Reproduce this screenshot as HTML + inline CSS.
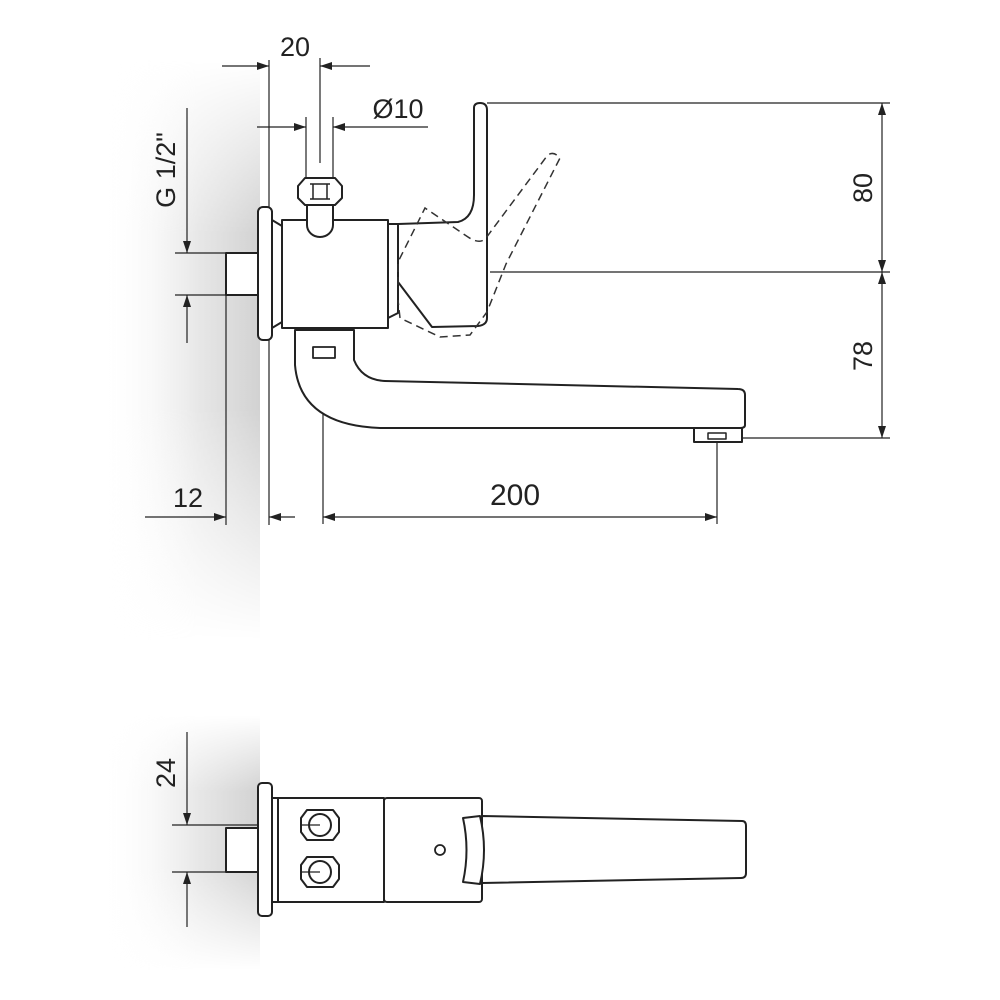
<!DOCTYPE html>
<html><head><meta charset="utf-8"><style>
html,body{margin:0;padding:0;background:#fff}
svg{display:block}
text{font-family:"Liberation Sans",sans-serif;fill:#222}
</style></head><body>
<svg width="1000" height="1000" viewBox="0 0 1000 1000" xmlns="http://www.w3.org/2000/svg">
<defs>
<linearGradient id="g1" x1="0" x2="1" y1="0" y2="0">
<stop offset="0" stop-color="#fff" stop-opacity="0"/>
<stop offset="0.6" stop-color="#e8e8e8"/>
<stop offset="1" stop-color="#d2d2d2"/>
</linearGradient>
<linearGradient id="gv" x1="0" x2="0" y1="0" y2="1">
<stop offset="0" stop-color="#000"/>
<stop offset="0.3" stop-color="#fff"/>
<stop offset="0.6" stop-color="#fff"/>
<stop offset="1" stop-color="#000"/>
</linearGradient>
<mask id="m1"><rect x="0" y="60" width="270" height="580" fill="url(#gv)"/></mask>
<mask id="m2"><rect x="0" y="715" width="270" height="255" fill="url(#gv)"/></mask>
<marker id="a" viewBox="0 0 12 8" refX="12" refY="4" markerWidth="12" markerHeight="8" orient="auto-start-reverse" markerUnits="userSpaceOnUse"><path d="M0,0 L12,4 L0,8 z" fill="#222"/></marker>
</defs>
<rect x="100" y="60" width="160" height="580" fill="url(#g1)" mask="url(#m1)"/>
<rect x="100" y="715" width="160" height="255" fill="url(#g1)" mask="url(#m2)"/>

<g fill="none" stroke="#222" stroke-width="1.2">
<line x1="269" y1="60" x2="269" y2="525"/>
<line x1="320" y1="58" x2="320" y2="163"/>
<line x1="222" y1="66" x2="269" y2="66" marker-end="url(#a)"/>
<line x1="370" y1="66" x2="320" y2="66" marker-end="url(#a)"/>
<line x1="306" y1="117" x2="306" y2="178"/>
<line x1="333" y1="117" x2="333" y2="178"/>
<line x1="257" y1="127" x2="306" y2="127" marker-end="url(#a)"/>
<line x1="428" y1="127" x2="333" y2="127" marker-end="url(#a)"/>
<line x1="187" y1="108" x2="187" y2="253" marker-end="url(#a)"/>
<line x1="187" y1="343" x2="187" y2="295" marker-end="url(#a)"/>
<line x1="175" y1="253" x2="226" y2="253"/>
<line x1="175" y1="295" x2="226" y2="295"/>
<line x1="226" y1="295" x2="226" y2="525"/>
<line x1="145" y1="517" x2="226" y2="517" marker-end="url(#a)"/>
<line x1="295" y1="517" x2="269" y2="517" marker-end="url(#a)"/>
<line x1="323" y1="392" x2="323" y2="524"/>
<line x1="717" y1="440" x2="717" y2="524"/>
<line x1="323" y1="517" x2="717" y2="517" marker-start="url(#a)" marker-end="url(#a)"/>
<line x1="487" y1="103" x2="890" y2="103"/>
<line x1="490" y1="272" x2="890" y2="272"/>
<line x1="735" y1="438" x2="890" y2="438"/>
<line x1="882" y1="103" x2="882" y2="272" marker-start="url(#a)" marker-end="url(#a)"/>
<line x1="882" y1="272" x2="882" y2="438" marker-start="url(#a)" marker-end="url(#a)"/>
<line x1="187" y1="732" x2="187" y2="825" marker-end="url(#a)"/>
<line x1="187" y1="927" x2="187" y2="872" marker-end="url(#a)"/>
<line x1="172" y1="825" x2="320" y2="825"/>
<line x1="172" y1="872" x2="320" y2="872"/>
</g>

<g fill="#fff" stroke="#222" stroke-width="2" stroke-linejoin="round">
<rect x="226" y="253" width="32" height="42"/>
<rect x="258" y="207" width="14" height="133" rx="5"/>
<path d="M272,220 L282,226 L282,322 L272,328 z"/>
<rect x="282" y="220" width="106" height="108"/>
<path d="M307,205 L307,225 A13,12 0 0 0 333,225 L333,205 z"/>
<path d="M305,178 L335,178 L342,186 L342,198 L335,205 L305,205 L298,198 L298,186 z"/>
<path d="M310,184 L330,184 M310,199 L330,199 M313,184 L313,199 M327,184 L327,199" fill="none" stroke-width="1.5"/>
<path d="M295,330 L354,330 L354,360 Q362,380 385,381 L738,389 Q745,389 745,395 L745,425 Q745,428 740,428 L380,428 Q300,425 295,365 z"/>
<rect x="313" y="347" width="22" height="11" stroke-width="1.8"/>
<rect x="694" y="428" width="48" height="14"/>
<rect x="708" y="433" width="18" height="6" stroke-width="1.5"/>
<path d="M388,224 L398,224 L398,313 L388,318 z"/>
<path d="M398,224 L458,222 Q474,218 474,195 L474,108 Q474,103 480,103 Q487,103 487,110 L487,318 Q487,325 478,326 L432,327 L398,282 z"/>
</g>
<path d="M398,285 L398,262 L425,208 L468,237 Q480,245 486,238 L547,156 Q553,150 560,158 L506,264 L487,312 L470,335 L440,337 L400,318 L398,300" fill="none" stroke="#333" stroke-width="1.5" stroke-dasharray="8,5"/>

<g fill="#fff" stroke="#222" stroke-width="2" stroke-linejoin="round">
<rect x="226" y="828" width="32" height="44"/>
<rect x="258" y="783" width="14" height="133" rx="4"/>
<path d="M272,798 L278,798 L278,902 L272,902 z"/>
<rect x="278" y="798" width="106" height="104"/>
<rect x="384" y="798" width="98" height="104" rx="3"/>
<path d="M482,816 L742,821 Q746,821 746,826 L746,873 Q746,878 741,878 L482,883 z"/>
<path d="M463,818 Q470,850 463,882 L480,884 Q488,850 480,816 z"/>
<path d="M307,810 L333,810 L339,818 L339,832 L333,840 L307,840 L301,832 L301,818 z"/>
<circle cx="320" cy="825" r="11"/>
<path d="M307,857 L333,857 L339,865 L339,879 L333,887 L307,887 L301,879 L301,865 z"/>
<circle cx="320" cy="872" r="11"/>
<circle cx="440" cy="850" r="5" stroke-width="1.8"/>
</g>
<line x1="300" y1="825" x2="320" y2="825" stroke="#222" stroke-width="1.2"/>
<line x1="300" y1="872" x2="320" y2="872" stroke="#222" stroke-width="1.2"/>

<text x="295" y="56" font-size="27" text-anchor="middle">20</text>
<text x="398" y="118" font-size="27" text-anchor="middle">Ø10</text>
<text x="188" y="507" font-size="27" text-anchor="middle">12</text>
<text x="515" y="505" font-size="30" text-anchor="middle">200</text>
<text transform="translate(175,170) rotate(-90)" font-size="27" text-anchor="middle">G 1/2"</text>
<text transform="translate(872,188) rotate(-90)" font-size="27" text-anchor="middle">80</text>
<text transform="translate(872,356) rotate(-90)" font-size="27" text-anchor="middle">78</text>
<text transform="translate(175,773) rotate(-90)" font-size="27" text-anchor="middle">24</text>
</svg>
</body></html>
